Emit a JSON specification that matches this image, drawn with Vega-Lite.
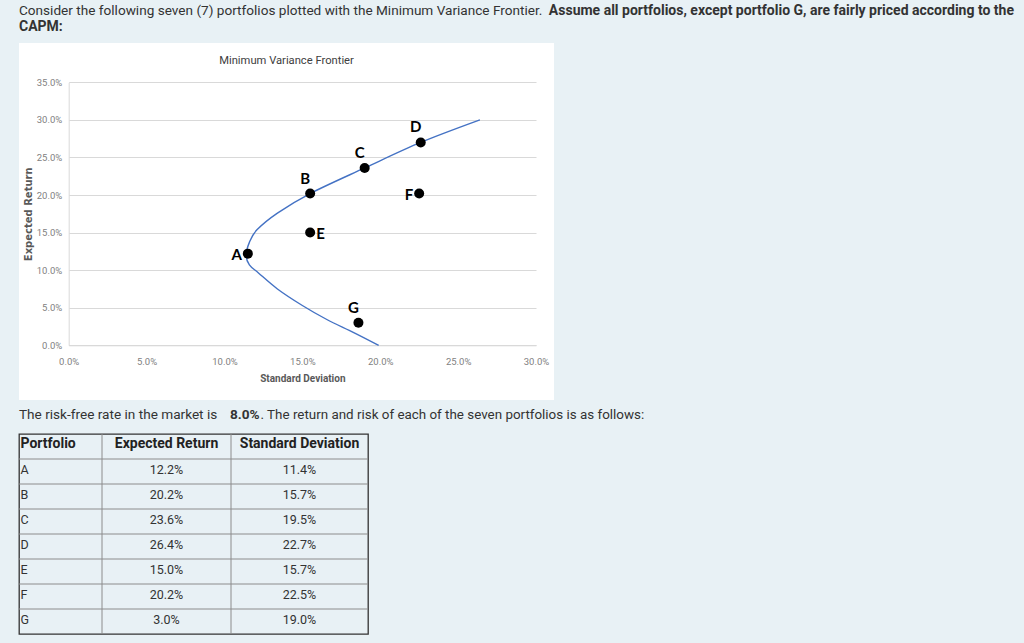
{
  "$schema": "https://vega.github.io/schema/vega-lite/v6.json",
  "background": "#e8f1f5",
  "padding": {"left": 17, "top": 0, "right": 0, "bottom": 11},
  "spacing": 0,
  "config": {"view": {"stroke": null}},
  "datasets": {
    "frontier": [
      {"sd": 0.264, "ret": 0.300},
      {"sd": 0.226, "ret": 0.270},
      {"sd": 0.190, "ret": 0.236},
      {"sd": 0.155, "ret": 0.202},
      {"sd": 0.134, "ret": 0.176},
      {"sd": 0.121, "ret": 0.154},
      {"sd": 0.116, "ret": 0.137},
      {"sd": 0.114, "ret": 0.120},
      {"sd": 0.116, "ret": 0.107},
      {"sd": 0.122, "ret": 0.096},
      {"sd": 0.134, "ret": 0.075},
      {"sd": 0.150, "ret": 0.053},
      {"sd": 0.166, "ret": 0.034},
      {"sd": 0.183, "ret": 0.017},
      {"sd": 0.199, "ret": 0.000}
    ],
    "plotted": [
      {"portfolio": "A", "sd": 0.115, "ret": 0.122},
      {"portfolio": "B", "sd": 0.155, "ret": 0.202},
      {"portfolio": "C", "sd": 0.190, "ret": 0.236},
      {"portfolio": "D", "sd": 0.226, "ret": 0.270},
      {"portfolio": "E", "sd": 0.155, "ret": 0.150},
      {"portfolio": "F", "sd": 0.225, "ret": 0.202},
      {"portfolio": "G", "sd": 0.186, "ret": 0.030}
    ],
    "table": [
      {"portfolio": "A", "ret": 0.122, "sd": 0.114},
      {"portfolio": "B", "ret": 0.202, "sd": 0.157},
      {"portfolio": "C", "ret": 0.236, "sd": 0.195},
      {"portfolio": "D", "ret": 0.264, "sd": 0.227},
      {"portfolio": "E", "ret": 0.150, "sd": 0.157},
      {"portfolio": "F", "ret": 0.202, "sd": 0.225},
      {"portfolio": "G", "ret": 0.030, "sd": 0.190}
    ],
    "tableHeader": [
      {"portfolio": "Portfolio", "ret": "Expected Return", "sd": "Standard Deviation"}
    ]
  },
  "vconcat": [
    {
      "width": 1007,
      "height": 43,
      "data": {"values": [
        {"segment": "intro", "text": "Consider the following seven (7) portfolios plotted with the Minimum Variance Frontier."},
        {"segment": "assumption", "text": "Assume all portfolios, except portfolio G, are fairly priced according to the"},
        {"segment": "assumption-end", "text": "CAPM:"}
      ]},
      "layer": [
        {
          "transform": [{"filter": "datum.segment === 'intro'"}],
          "mark": {"type": "text", "align": "left", "baseline": "middle", "font": "Roboto", "fontSize": 13.6, "color": "#333333"},
          "encoding": {"x": {"value": 0}, "y": {"value": 11}, "text": {"field": "text"}}
        },
        {
          "transform": [{"filter": "datum.segment === 'assumption'"}],
          "mark": {"type": "text", "align": "right", "baseline": "middle", "font": "Roboto", "fontSize": 14, "fontWeight": "bold", "color": "#333333"},
          "encoding": {"x": {"value": 995}, "y": {"value": 11}, "text": {"field": "text"}}
        },
        {
          "transform": [{"filter": "datum.segment === 'assumption-end'"}],
          "mark": {"type": "text", "align": "left", "baseline": "middle", "font": "Roboto", "fontSize": 14, "fontWeight": "bold", "color": "#333333"},
          "encoding": {"x": {"value": 0}, "y": {"value": 27}, "text": {"field": "text"}}
        }
      ]
    },
    {
      "width": 535,
      "height": 357,
      "view": {"fill": "white", "stroke": null},
      "encoding": {
        "x": {
          "field": "sd", "type": "quantitative",
          "scale": {"domain": [0, 0.3], "range": [49.7, 517], "nice": false, "zero": false},
          "axis": {
            "title": "Standard Deviation",
            "values": [0, 0.05, 0.1, 0.15, 0.2, 0.25, 0.3],
            "format": ".1%",
            "offset": -54.7,
            "grid": false, "ticks": false,
            "domain": true, "domainColor": "#d9d9d9",
            "labelFlush": false, "labelOverlap": false,
            "labelFont": "Roboto", "labelFontSize": 9.5, "labelColor": "#7f7f7f", "labelPadding": 11,
            "titleFont": "Roboto", "titleFontSize": 10, "titleFontWeight": "bold", "titleColor": "#595959", "titlePadding": 8
          }
        },
        "y": {
          "field": "ret", "type": "quantitative",
          "scale": {"domain": [0, 0.35], "range": [302.3, 39.3], "nice": false, "zero": false},
          "axis": {
            "title": "Expected Return",
            "values": [0, 0.05, 0.1, 0.15, 0.2, 0.25, 0.3, 0.35],
            "format": ".1%",
            "offset": -49.7,
            "grid": true, "gridColor": "#d9d9d9",
            "ticks": false,
            "domain": true, "domainColor": "#d9d9d9",
            "labelOverlap": false,
            "labelFont": "Roboto", "labelFontSize": 9.5, "labelColor": "#7f7f7f", "labelPadding": 7,
            "titleFont": "DejaVu Sans", "titleFontSize": 10, "titleFontWeight": "bold", "titleColor": "#595959",
            "titleX": -40, "titleY": 170.8, "titleAngle": -90, "titleAlign": "center", "titleBaseline": "middle"
          }
        }
      },
      "layer": [
        {
          "data": {"values": [{"title": "Minimum Variance Frontier"}]},
          "mark": {"type": "text", "align": "center", "baseline": "middle", "font": "Roboto", "fontSize": 11.2, "color": "#404040"},
          "encoding": {"x": {"value": 267.5}, "y": {"value": 17.7}, "text": {"field": "title"}}
        },
        {
          "data": {"name": "frontier"},
          "mark": {"type": "line", "interpolate": "cardinal", "color": "#4472c4", "strokeWidth": 1.4},
          "encoding": {"order": {"field": "ret", "type": "quantitative"}}
        },
        {
          "data": {"name": "plotted"},
          "mark": {"type": "circle", "size": 100, "color": "#000000", "opacity": 1}
        },
        {
          "data": {"name": "plotted"},
          "transform": [{"filter": {"field": "portfolio", "oneOf": ["B", "C", "D", "G"]}}],
          "mark": {"type": "text", "align": "center", "baseline": "middle", "dx": -5, "dy": -15, "font": "Lato", "fontSize": 15, "fontWeight": "bold", "color": "#000000"},
          "encoding": {"text": {"field": "portfolio"}}
        },
        {
          "data": {"name": "plotted"},
          "transform": [{"filter": {"field": "portfolio", "oneOf": ["A", "F"]}}],
          "mark": {"type": "text", "align": "right", "baseline": "middle", "dx": -6, "dy": 1, "font": "Lato", "fontSize": 15, "fontWeight": "bold", "color": "#000000"},
          "encoding": {"text": {"field": "portfolio"}}
        },
        {
          "data": {"name": "plotted"},
          "transform": [{"filter": {"field": "portfolio", "oneOf": ["E"]}}],
          "mark": {"type": "text", "align": "left", "baseline": "middle", "dx": 6, "dy": 1, "font": "Lato", "fontSize": 15, "fontWeight": "bold", "color": "#000000"},
          "encoding": {"text": {"field": "portfolio"}}
        }
      ]
    },
    {
      "width": 1007,
      "height": 32,
      "data": {"values": [
        {"segment": "rate-intro", "text": "The risk-free rate in the market is"},
        {"segment": "rate", "text": "8.0%"},
        {"segment": "rate-outro", "text": ".  The return and risk of each of the seven portfolios is as follows:"}
      ]},
      "layer": [
        {
          "transform": [{"filter": "datum.segment === 'rate-intro'"}],
          "mark": {"type": "text", "align": "left", "baseline": "middle", "font": "Roboto", "fontSize": 13.6, "color": "#333333"},
          "encoding": {"x": {"value": 0}, "y": {"value": 15}, "text": {"field": "text"}}
        },
        {
          "transform": [{"filter": "datum.segment === 'rate'"}],
          "mark": {"type": "text", "align": "left", "baseline": "middle", "font": "Roboto", "fontSize": 13.6, "fontWeight": "bold", "color": "#333333"},
          "encoding": {"x": {"value": 211}, "y": {"value": 15}, "text": {"field": "text"}}
        },
        {
          "transform": [{"filter": "datum.segment === 'rate-outro'"}],
          "mark": {"type": "text", "align": "left", "baseline": "middle", "font": "Roboto", "fontSize": 13.4, "color": "#333333"},
          "encoding": {"x": {"value": 241.5}, "y": {"value": 15}, "text": {"field": "text"}}
        }
      ]
    },
    {
      "width": 349,
      "height": 200,
      "view": {"stroke": "#333333", "strokeWidth": 1.3},
      "encoding": {
        "y": {
          "field": "portfolio", "type": "nominal",
          "scale": {"domain": ["Portfolio", "A", "B", "C", "D", "E", "F", "G"], "paddingInner": 0, "paddingOuter": 0},
          "axis": null
        }
      },
      "layer": [
        {
          "data": {"name": "table"},
          "mark": {"type": "rule", "color": "#8c8c8c", "strokeWidth": 1},
          "encoding": {"y": {"field": "portfolio", "type": "nominal", "bandPosition": 0}}
        },
        {
          "data": {"name": "tableHeader"},
          "mark": {"type": "rule", "color": "#8c8c8c", "strokeWidth": 1},
          "encoding": {"x": {"value": 83}, "y": {"value": 0}, "y2": {"value": 200}}
        },
        {
          "data": {"name": "tableHeader"},
          "mark": {"type": "rule", "color": "#8c8c8c", "strokeWidth": 1},
          "encoding": {"x": {"value": 212}, "y": {"value": 0}, "y2": {"value": 200}}
        },
        {
          "data": {"name": "tableHeader"},
          "mark": {"type": "text", "align": "left", "baseline": "middle", "dy": -2.5, "font": "Roboto", "fontSize": 14, "fontWeight": "bold", "color": "#222222"},
          "encoding": {"x": {"value": 1.5}, "text": {"field": "portfolio"}}
        },
        {
          "data": {"name": "tableHeader"},
          "mark": {"type": "text", "align": "center", "baseline": "middle", "dy": -2.5, "font": "Roboto", "fontSize": 14, "fontWeight": "bold", "color": "#222222"},
          "encoding": {"x": {"value": 147.5}, "text": {"field": "ret"}}
        },
        {
          "data": {"name": "tableHeader"},
          "mark": {"type": "text", "align": "center", "baseline": "middle", "dy": -2.5, "font": "Roboto", "fontSize": 14, "fontWeight": "bold", "color": "#222222"},
          "encoding": {"x": {"value": 280.5}, "text": {"field": "sd"}}
        },
        {
          "data": {"name": "table"},
          "mark": {"type": "text", "align": "left", "baseline": "middle", "dy": -2, "font": "Roboto", "fontSize": 12.5, "color": "#333333"},
          "encoding": {"x": {"value": 1.5}, "text": {"field": "portfolio"}}
        },
        {
          "data": {"name": "table"},
          "mark": {"type": "text", "align": "center", "baseline": "middle", "dy": -2, "font": "Roboto", "fontSize": 12.5, "color": "#333333"},
          "encoding": {"x": {"value": 147.5}, "text": {"field": "ret", "type": "quantitative", "format": ".1%"}}
        },
        {
          "data": {"name": "table"},
          "mark": {"type": "text", "align": "center", "baseline": "middle", "dy": -2, "font": "Roboto", "fontSize": 12.5, "color": "#333333"},
          "encoding": {"x": {"value": 280.5}, "text": {"field": "sd", "type": "quantitative", "format": ".1%"}}
        }
      ]
    }
  ]
}
